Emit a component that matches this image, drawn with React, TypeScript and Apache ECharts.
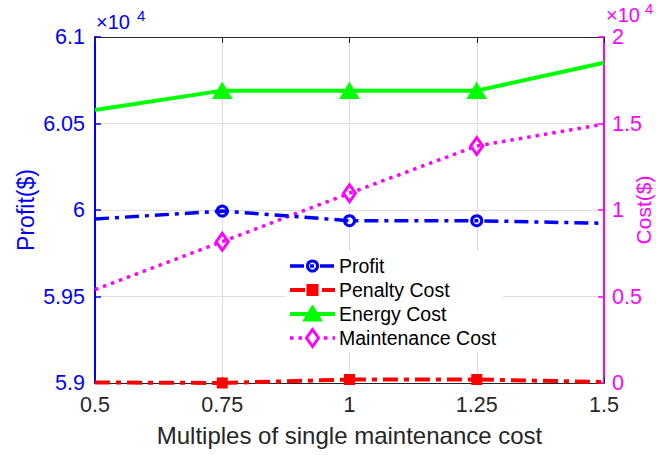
import React, { useEffect, useRef } from "react";
import * as echarts from "echarts";

const xValues = [0.5, 0.75, 1, 1.25, 1.5];
const xTickLabels = ["0.5", "0.75", "1", "1.25", "1.5"];
const profit = [59948, 59994, 59938, 59938, 59923];
const penaltyCost = [30, 0, 200, 200, 60];
const energyCost = [15780, 16900, 16900, 16900, 18510];
const maintenanceCost = [5400, 8170, 10970, 13700, 14960];
const markerShown = [false, true, true, true, false];
const seriesNames = ["Profit", "Penalty Cost", "Energy Cost", "Maintenance Cost"];

const FONT = "'Liberation Sans', Arial, Helvetica, sans-serif";
const BLUE = "#0000ff";
const RED = "#ff0000";
const GREEN = "#00ff00";
const MAGENTA = "#ff00ff";
const DARK = "#262626";
const GRID = "#dedede";

const PROFIT_DASH = [14, 6, 4, 6];
const PENALTY_DASH = [15, 6, 5, 6];
const MAINT_DASH = [3.5, 5];

function pts(vals: number[], symbol: string) {
  return xValues.map((x, i) => ({
    value: [x, vals[i]],
    symbol: markerShown[i] ? symbol : "none",
  }));
}

function legendGraphics() {
  const left = 290;
  const lineLen = 45;
  const top = 266;
  const rowH = 24;
  const cx = left + lineLen / 2;
  const els: any[] = [
    { type: "rect", z: 100, shape: { x: 285, y: 251, width: 218, height: 101 }, style: { fill: "#fff" } },
  ];
  const colors = [BLUE, RED, GREEN, MAGENTA];
  const dashes: any[] = [PROFIT_DASH, PENALTY_DASH, null, MAINT_DASH];
  const widths = [3.5, 4, 4, 3.5];
  seriesNames.forEach((name, i) => {
    const y = top + i * rowH;
    els.push({
      type: "line",
      z: 101,
      shape: { x1: left, y1: y, x2: left + lineLen, y2: y },
      style: { stroke: colors[i], lineWidth: widths[i], lineDash: dashes[i] || undefined },
    });
    if (i === 0) {
      els.push({ type: "circle", z: 102, shape: { cx, cy: y, r: 5 }, style: { fill: "rgba(255,255,255,0)", stroke: BLUE, lineWidth: 3 } });
    } else if (i === 1) {
      els.push({ type: "rect", z: 102, shape: { x: cx - 5, y: y - 5, width: 10, height: 10 }, style: { fill: RED, stroke: RED, lineWidth: 2 } });
    } else if (i === 2) {
      els.push({ type: "polygon", z: 102, shape: { points: [[cx, y - 9], [cx + 9.5, y + 7], [cx - 9.5, y + 7]] }, style: { fill: GREEN, stroke: GREEN, lineWidth: 1 } });
    } else {
      els.push({ type: "polygon", z: 102, shape: { points: [[cx, y - 8.5], [cx + 6, y], [cx, y + 8.5], [cx - 6, y]] }, style: { fill: "#fff", stroke: MAGENTA, lineWidth: 3 } });
    }
    els.push({
      type: "text",
      z: 102,
      x: 339,
      y,
      style: { text: name, font: `19.5px ${FONT}`, fill: "#000", verticalAlign: "middle", align: "left" },
    });
  });
  return els;
}

export default function App() {
  const ref = useRef<HTMLDivElement>(null);
  useEffect(() => {
    if (!ref.current) return;
    const chart = echarts.init(ref.current, undefined, { renderer: "svg" });
    const xLabelMap: Record<string, string> = {};
    xValues.forEach((v, i) => (xLabelMap[String(v)] = xTickLabels[i]));
    chart.setOption({
      animation: false,
      backgroundColor: "#fff",
      textStyle: { fontFamily: FONT },
      grid: { left: 95, right: 52, top: 37, bottom: 72, show: true, backgroundColor: "#fff", borderWidth: 0, outerBoundsMode: "none", containLabel: false },
      xAxis: [
        {
          type: "value",
          position: "bottom",
          min: 0.5,
          max: 1.5,
          interval: 0.25,
          name: "Multiples of single maintenance cost",
          nameLocation: "middle",
          nameGap: 40,
          nameMoveOverlap: false,
          nameTextStyle: { fontSize: 24, color: DARK, fontFamily: FONT },
          axisLine: { show: true, onZero: false, lineStyle: { color: DARK, width: 1.2 } },
          axisTick: { show: true, inside: true, length: 6, lineStyle: { color: DARK } },
          axisLabel: { fontSize: 21.5, color: DARK, margin: 11, formatter: (v: number) => xLabelMap[String(v)] ?? String(v) },
          splitLine: { show: true, lineStyle: { color: GRID, width: 1 } },
        },
        {
          type: "value",
          position: "top",
          min: 0.5,
          max: 1.5,
          interval: 0.25,
          axisLine: { show: true, onZero: false, lineStyle: { color: DARK, width: 1.2 } },
          axisTick: { show: true, inside: true, length: 6, lineStyle: { color: DARK } },
          axisLabel: { show: false },
          splitLine: { show: false },
        },
      ],
      yAxis: [
        {
          type: "value",
          position: "left",
          min: 59000,
          max: 61000,
          interval: 500,
          name: "Profit($)",
          nameLocation: "middle",
          nameGap: 58,
          nameMoveOverlap: false,
          nameTextStyle: { fontSize: 23, color: BLUE, fontFamily: FONT },
          axisLine: { show: true, onZero: false, lineStyle: { color: BLUE, width: 2 } },
          axisTick: { show: true, inside: true, length: 6, lineStyle: { color: BLUE, width: 1.5 } },
          axisLabel: { fontSize: 21.5, color: BLUE, margin: 10, formatter: (v: number) => String(+(v / 1e4).toFixed(2)) },
          splitLine: { show: true, lineStyle: { color: GRID, width: 1 } },
        },
        {
          type: "value",
          position: "right",
          min: 0,
          max: 20000,
          interval: 5000,
          name: "Cost($)",
          nameLocation: "middle",
          nameGap: 29,
          nameMoveOverlap: false,
          nameTextStyle: { fontSize: 21, color: MAGENTA, fontFamily: FONT },
          axisLine: { show: true, onZero: false, lineStyle: { color: MAGENTA, width: 2 } },
          axisTick: { show: true, inside: true, length: 6, lineStyle: { color: MAGENTA, width: 1.5 } },
          axisLabel: { fontSize: 21.5, color: MAGENTA, margin: 8, formatter: (v: number) => String(+(v / 1e4).toFixed(2)) },
          splitLine: { show: false },
        },
      ],
      series: [
        {
          name: "Profit",
          type: "line",
          xAxisIndex: 0,
          yAxisIndex: 0,
          data: pts(profit, "circle"),
          symbolSize: 10,
          lineStyle: { color: BLUE, width: 3.5, type: PROFIT_DASH },
          itemStyle: { color: "rgba(255,255,255,0)", borderColor: BLUE, borderWidth: 3 },
          z: 4,
        },
        {
          name: "Penalty Cost",
          type: "line",
          xAxisIndex: 0,
          yAxisIndex: 1,
          data: pts(penaltyCost, "rect"),
          symbolSize: 9,
          lineStyle: { color: RED, width: 4, type: PENALTY_DASH },
          itemStyle: { color: RED, borderColor: RED, borderWidth: 2 },
          z: 5,
        },
        {
          name: "Energy Cost",
          type: "line",
          xAxisIndex: 0,
          yAxisIndex: 1,
          data: pts(energyCost, "triangle"),
          symbolSize: [19, 16],
          lineStyle: { color: GREEN, width: 4, type: "solid" },
          itemStyle: { color: GREEN, borderColor: GREEN, borderWidth: 1 },
          z: 3,
        },
        {
          name: "Maintenance Cost",
          type: "line",
          xAxisIndex: 0,
          yAxisIndex: 1,
          data: pts(maintenanceCost, "diamond"),
          symbolSize: [12, 17],
          lineStyle: { color: MAGENTA, width: 3.5, type: MAINT_DASH },
          itemStyle: { color: "rgba(255,255,255,0)", borderColor: MAGENTA, borderWidth: 3 },
          z: 3,
        },
      ],
      graphic: [
        { type: "text", x: 96, y: 12, style: { text: "×10", font: `20px ${FONT}`, fill: BLUE } },
        { type: "text", x: 137, y: 8, style: { text: "4", font: `15px ${FONT}`, fill: BLUE } },
        { type: "text", x: 606, y: 5, style: { text: "×10", font: `20px ${FONT}`, fill: MAGENTA } },
        { type: "text", x: 645, y: 1, style: { text: "4", font: `15px ${FONT}`, fill: MAGENTA } },
        ...legendGraphics(),
      ],
    });
    return () => chart.dispose();
  }, []);
  return <div ref={ref} style={{ width: 656, height: 455, position: "absolute", left: 0, top: 0 }} />;
}
